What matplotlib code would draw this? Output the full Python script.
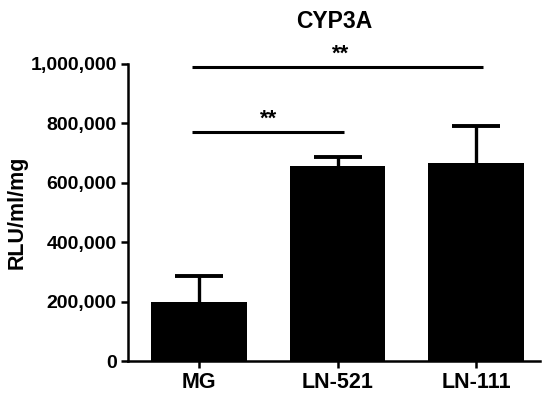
import numpy as np
import matplotlib.pyplot as plt

plt.rcParams['font.family'] = ['Liberation Sans', 'DejaVu Sans']
plt.rcParams['font.weight'] = 'bold'
plt.rcParams['axes.labelweight'] = 'bold'

# ── Data ─────────────────────────────────────────────
groups = ['MG', 'LN-521', 'LN-111']
means = [200000, 655000, 668000]
sem = [85000, 30000, 122000]
yticks = [0, 200000, 400000, 600000, 800000, 1000000]

# significance brackets: (x start, x end, height, label)
sig_pairs = [(0, 1, 772000, '**'), (0, 2, 990000, '**')]

# ── Plot ─────────────────────────────────────────────
fig = plt.figure(figsize=(5.54, 3.99), dpi=100)
ax = fig.add_axes([0.231, 0.095, 0.744, 0.745])

x = np.arange(len(groups))
ax.bar(x, means, width=0.69, color='black')
eb = ax.errorbar(x, means, yerr=[np.zeros(len(sem)), sem], fmt='none',
                 ecolor='black', elinewidth=2.4, capsize=17, capthick=2.8)
eb[1][0].set_visible(False)   # hide lower caps

for x0, x1, h, lab in sig_pairs:
    ax.plot([x0 - 0.05, x1 + 0.05], [h, h], color='black', lw=2.2,
            clip_on=False, solid_capstyle='butt')
    ax.text((x0 + x1) / 2 + (0.02 if x1 == 2 else 0), h + 8000, lab,
            ha='center', va='bottom', fontsize=16, clip_on=False)

ax.set_xlim(-0.51, 2.46)
ax.set_ylim(0, 1000000)
ax.set_xticks(x)
ax.set_xticklabels(groups, fontsize=15.5)
ax.set_yticks(yticks)
ax.set_yticklabels([f'{v:,}' for v in yticks], fontsize=14)
ax.set_ylabel('RLU/ml/mg', fontsize=15.5, labelpad=2)
ax.set_title('CYP3A', fontsize=16.5, fontweight='bold', pad=26)

for s in ['top', 'right']:
    ax.spines[s].set_visible(False)
for s in ['left', 'bottom']:
    ax.spines[s].set_linewidth(1.8)
ax.tick_params(width=1.8, length=5, pad=3)

plt.savefig('out.png', dpi=100)
